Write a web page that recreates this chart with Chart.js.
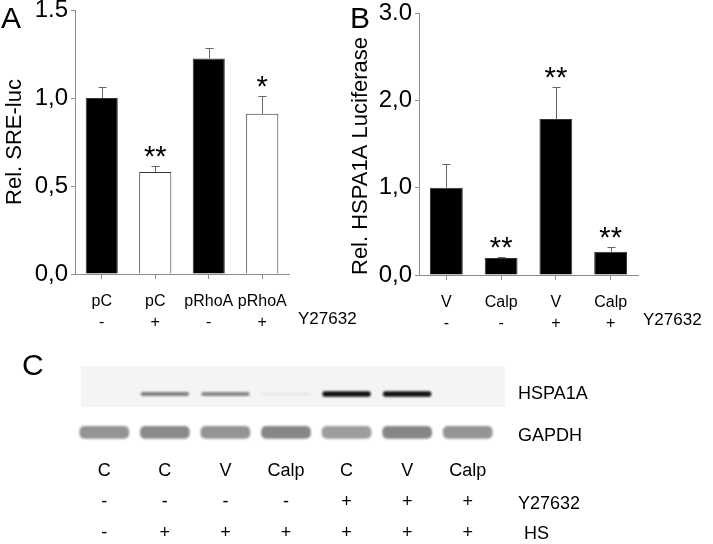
<!DOCTYPE html>
<html>
<head>
<meta charset="utf-8">
<script src="https://cdn.jsdelivr.net/npm/chart.js@4.4.0/dist/chart.umd.min.js"></script>
<style>
  html, body { margin: 0; padding: 0; background: #fff; }
  #wrap { position: relative; width: 713px; height: 544px; overflow: hidden; }
  .box { position: absolute; }
  #boxA { left: 0; top: 0; width: 380px; height: 340px; }
  #boxB { left: 340px; top: 0; width: 373px; height: 340px; }
  #boxC { left: 0; top: 340px; width: 713px; height: 204px; }
</style>
</head>
<body>
<div id="wrap">
  <div class="box" id="boxC"><canvas id="chartC"></canvas></div>
  <div class="box" id="boxA"><canvas id="chartA"></canvas></div>
  <div class="box" id="boxB"><canvas id="chartB"></canvas></div>
</div>
<script>
// panel A - SRE luciferase
const groupsA = ['pC', 'pC', 'pRhoA', 'pRhoA'];
const y27A = ['-', '+', '-', '+'];
const valuesA = [1.00, 0.58, 1.225, 0.91];
const errorsA = [0.064, 0.034, 0.061, 0.10];
const starsA = ['', '**', '', '*'];
const yTicksA = ['0,0', '0,5', '1,0', '1.5'];

// panel B - HSPA1A luciferase
const groupsB = ['V', 'Calp', 'V', 'Calp'];
const y27B = ['-', '-', '+', '+'];
const valuesB = [1.00, 0.195, 1.785, 0.267];
const errorsB = [0.27, 0.01, 0.365, 0.053];
const starsB = ['', '**', '**', '**'];
const yTicksB = ['0,0', '1,0', '2,0', '3.0'];

// panel C - western blot lanes (band intensity 0..1)
const lanesC = ['C', 'C', 'V', 'Calp', 'C', 'V', 'Calp'];
const y27C = ['-', '-', '-', '-', '+', '+', '+'];
const hsC = ['-', '+', '+', '+', '+', '+', '+'];
const hspa1a = [0, 0.5, 0.47, 0.05, 0.97, 0.97, 0];
const gapdh = [0.55, 0.6, 0.55, 0.62, 0.5, 0.62, 0.55];

const FONT = '"Liberation Sans", Arial, sans-serif';
const AXIS = '#8c8c8c';
Chart.defaults.font.family = FONT;
Chart.defaults.color = '#000';

const extras = {
  id: 'panelExtras',
  afterDatasetsDraw(chart, args, o) {
    if (!o.errors) return;
    const ctx = chart.ctx;
    const y = chart.scales.y;
    const meta = chart.getDatasetMeta(0);
    ctx.save();
    ctx.strokeStyle = '#666';
    ctx.lineWidth = 1;
    meta.data.forEach((bar, i) => {
      const v = chart.data.datasets[0].data[i];
      const top = Math.round(y.getPixelForValue(v + o.errors[i])) + 0.5;
      const x = Math.round(bar.x) + 0.5;
      ctx.beginPath();
      ctx.moveTo(x, bar.y);
      ctx.lineTo(x, top);
      ctx.moveTo(x - 4, top);
      ctx.lineTo(x + 4, top);
      ctx.stroke();
      if (o.stars[i]) {
        ctx.fillStyle = '#000';
        ctx.font = '29px ' + FONT;
        ctx.textAlign = 'center';
        ctx.textBaseline = 'alphabetic';
        ctx.fillText(o.stars[i], bar.x, top - 1);
      }
    });
    ctx.restore();
  },
  afterDraw(chart, args, o) {
    const ctx = chart.ctx, a = chart.chartArea;
    ctx.save();
    ctx.fillStyle = '#000';
    if (o.letter) {
      ctx.font = '30px ' + FONT;
      ctx.textAlign = 'left';
      ctx.textBaseline = 'alphabetic';
      ctx.fillText(o.letter, o.letterX, o.letterY);
    }
    if (o.rowLabel) {
      ctx.font = '17px ' + FONT;
      ctx.textAlign = 'left';
      ctx.textBaseline = 'middle';
      ctx.fillText(o.rowLabel, a.right + o.rowDx, a.bottom + o.rowDy);
    }
    ctx.restore();
  }
};

function barPanel(id, p) {
  return new Chart(document.getElementById(id), {
    type: 'bar',
    data: {
      labels: p.groups.map((g, i) => [g, p.y27[i]]),
      datasets: [{
        data: p.values,
        backgroundColor: p.fills,
        borderColor: '#333',
        borderWidth: 1,
        barPercentage: 0.6,
        categoryPercentage: 1
      }]
    },
    options: {
      responsive: true,
      maintainAspectRatio: false,
      animation: false,
      devicePixelRatio: 1,
      layout: { padding: p.padding },
      plugins: {
        legend: { display: false },
        tooltip: { enabled: false },
        panelExtras: {
          errors: p.errors, stars: p.stars,
          letter: p.letter, letterX: p.letterX, letterY: 28,
          rowLabel: 'Y27632', rowDx: p.rowDx, rowDy: 45
        }
      },
      scales: {
        x: {
          offset: true,
          grid: { offset: false, drawOnChartArea: false, color: AXIS, tickLength: 5 },
          border: { color: AXIS },
          ticks: { font: { size: 16, lineHeight: 1.32 }, padding: 12, maxRotation: 0, autoSkip: false },
          afterFit: s => { s.height = 340 - p.padding.top - p.plotH; s.paddingLeft = 0; s.paddingRight = 0; }
        },
        y: {
          min: 0, max: p.max,
          ticks: { stepSize: p.step, font: { size: 24 }, padding: 3, callback: (v, i) => p.yTicks[i] },
          grid: { drawOnChartArea: false, color: AXIS, tickLength: 4 },
          border: { color: AXIS },
          title: { display: true, text: p.title, font: { size: 22 }, padding: { top: p.titlePad, bottom: 0 }, align: p.titleAlign },
          afterFit: s => { s.width = p.yWidth; s.paddingTop = 0; s.paddingBottom = 0; }
        }
      }
    },
    plugins: [extras]
  });
}

barPanel('chartA', {
  groups: groupsA, y27: y27A, values: valuesA, errors: errorsA, stars: starsA, yTicks: yTicksA,
  fills: y27A.map(s => s === '+' ? '#ffffff' : '#000000'),
  max: 1.5, step: 0.5, title: 'Rel. SRE-luc', titlePad: 2, titleAlign: 'center',
  yWidth: 75, padding: { top: 10, right: 91, bottom: 0, left: 0 }, plotH: 264,
  letter: 'A', letterX: 1, rowDx: 9
});

barPanel('chartB', {
  groups: groupsB, y27: y27B, values: valuesB, errors: errorsB, stars: starsB, yTicks: yTicksB,
  fills: y27B.map(() => '#000000'),
  max: 3, step: 1, title: 'Rel. HSPA1A Luciferase', titlePad: 8, titleAlign: 'start',
  yWidth: 79, padding: { top: 13, right: 75, bottom: 0, left: 0 }, plotH: 262,
  letter: 'B', letterX: 10, rowDx: 5
});

// panel C: bands are floating bars on a hidden value scale
const HSP_ROW = 6.5, GAPDH_ROW = 1.7;
const blot = {
  id: 'blot',
  beforeDatasetsDraw(chart) {
    const ctx = chart.ctx, a = chart.chartArea, y = chart.scales.y;
    ctx.save();
    ctx.fillStyle = '#f4f4f4';
    ctx.fillRect(a.left + 7, a.top, a.width, y.getPixelForValue(4.9) - a.top);
    ctx.restore();
    ctx.save();
    ctx.filter = 'blur(1.3px)';
  },
  afterDatasetsDraw(chart) {
    chart.ctx.restore();
  },
  afterDraw(chart) {
    const ctx = chart.ctx, a = chart.chartArea, y = chart.scales.y;
    ctx.save();
    ctx.fillStyle = '#000';
    ctx.font = '18px ' + FONT;
    ctx.textBaseline = 'middle';
    ctx.textAlign = 'left';
    const x0 = a.right + 20;
    ctx.fillText('HSPA1A', x0, y.getPixelForValue(HSP_ROW));
    ctx.fillText('GAPDH', x0, y.getPixelForValue(GAPDH_ROW) + 4);
    ctx.fillText('Y27632', x0, a.bottom + 58);
    ctx.fillText('HS', x0 + 6, a.bottom + 88);
    ctx.font = '30px ' + FONT;
    ctx.textBaseline = 'alphabetic';
    ctx.fillText('C', 22, 35);
    ctx.restore();
  }
};

new Chart(document.getElementById('chartC'), {
  type: 'bar',
  data: {
    labels: lanesC.map((l, i) => [l, y27C[i], hsC[i]]),
    datasets: [
      {
        label: 'HSPA1A',
        data: hspa1a.map(v => [HSP_ROW - 0.18 - 0.16 * v, HSP_ROW + 0.18 + 0.16 * v]),
        backgroundColor: hspa1a.map(v => 'rgba(10,10,10,' + v + ')'),
        barPercentage: 0.8, categoryPercentage: 1, grouped: false,
        borderRadius: 3, borderSkipped: false
      },
      {
        label: 'GAPDH',
        data: gapdh.map(() => [GAPDH_ROW - 0.8, GAPDH_ROW + 0.8]),
        backgroundColor: gapdh.map(v => 'rgba(60,60,60,' + v + ')'),
        barPercentage: 0.82, categoryPercentage: 1, grouped: false,
        borderRadius: 5, borderSkipped: false
      }
    ]
  },
  options: {
    responsive: true,
    maintainAspectRatio: false,
    animation: false,
    devicePixelRatio: 1,
    layout: { padding: { left: 74, right: 215, top: 26, bottom: 0 } },
    plugins: { legend: { display: false }, tooltip: { enabled: false } },
    scales: {
      x: {
        offset: true,
        grid: { display: false, drawTicks: false },
        border: { display: false },
        ticks: { font: { size: 18, lineHeight: 1.72 }, padding: 10, maxRotation: 0, autoSkip: false },
        afterFit: s => { s.height = 98; }
      },
      y: { display: false, min: 0, max: 10 }
    }
  },
  plugins: [blot]
});
</script>
</body>
</html>
